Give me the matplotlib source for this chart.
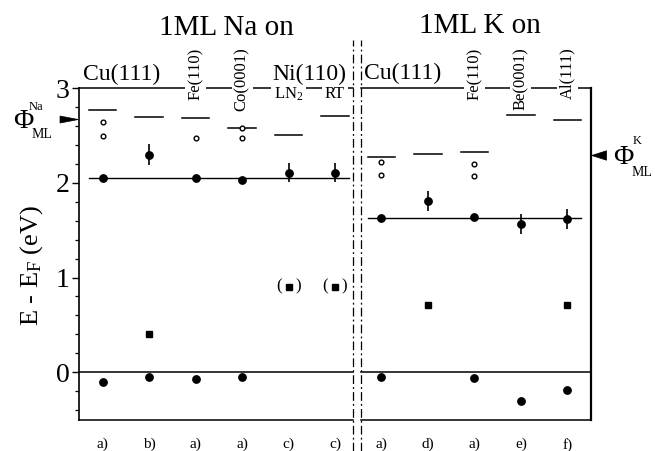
import matplotlib
matplotlib.use('Agg')
import matplotlib.pyplot as plt
from matplotlib.patches import Polygon
from matplotlib.transforms import blended_transform_factory
from matplotlib.ticker import FixedLocator, MultipleLocator

plt.rcParams['font.family'] = ['Liberation Serif', 'DejaVu Serif']
plt.rcParams['mathtext.fontset'] = 'custom'
plt.rcParams['mathtext.rm'] = 'Liberation Serif'
plt.rcParams['mathtext.it'] = 'Liberation Serif:italic'

# ---------------- data ----------------
cols = list(range(11))
cond_labels = ['a)', 'b)', 'a)', 'a)', 'c)', 'c)', 'a)', 'd)', 'a)', 'e)', 'f)']
# work function (horizontal dash per column)
work_fn = [2.77, 2.70, 2.69, 2.58, 2.51, 2.71, 2.27, 2.31, 2.33, 2.72, 2.66]
# open circles (image states)
open_x = [0, 0, 2, 3, 3, 6, 6, 8, 8]
open_y = [2.64, 2.50, 2.47, 2.58, 2.48, 2.22, 2.08, 2.20, 2.07]
# filled circles upper (quantum well state)
upper_y = [2.05, 2.30, 2.05, 2.03, 2.11, 2.11, 1.63, 1.81, 1.64, 1.57, 1.62]
upper_err = [0, 0.11, 0, 0, 0.10, 0.10, 0, 0.105, 0, 0.105, 0.105]
# filled squares
sq_x = [1, 7, 10]
sq_y = [0.40, 0.71, 0.71]
# parenthesised squares
psq_x = [4, 5]
psq_y = [0.905, 0.905]
# filled circles near E_F
low_x = [0, 1, 2, 3, 6, 8, 9, 10]
low_y = [-0.105, -0.055, -0.07, -0.05, -0.05, -0.065, -0.30, -0.19]
# reference levels
na_ref = 2.05
k_ref = 1.63
phi_na = 2.67
phi_k = 2.29
top_labels_rot = {2: 'Fe(110)', 3: 'Co(0001)', 8: 'Fe(110)', 9: 'Be(0001)', 10: 'Al(111)'}
temp_labels = {4: 'LN$_2$', 5: 'RT'}

W, H = 655, 451
fig = plt.figure(figsize=(W / 100, H / 100), dpi=100)
ax = fig.add_axes([79.3 / W, 1 - 419.5 / H, 511.4 / W, 331.2 / H])
ax.set_xlim(-0.5, 10.5)
ax.set_ylim(-0.5, 3.0)

def ftxt(x, y, s, **kw):
    fig.text(x / W, 1 - y / H, s, **kw)

k = 'black'
for s in ['top', 'bottom']:
    ax.spines[s].set_visible(False)
ax.spines['left'].set_linewidth(1.2)
ax.spines['right'].set_linewidth(1.6)

xl, xr = 5.38, 5.57
for yy in [3.0, 0.0, -0.5]:
    ax.plot([-0.5, xl], [yy, yy], color=k, lw=1.1, clip_on=False, zorder=1)
    ax.plot([xr, 10.5], [yy, yy], color=k, lw=1.1, clip_on=False, zorder=1)
for xx in [xl, xr]:
    ax.plot([xx, xx], [-0.83, 3.51], color=k, lw=0.9, ls=(0, (7, 2.5, 1.5, 2.5)),
            clip_on=False, zorder=1)

# reference lines
ax.plot([-0.3, 5.3], [na_ref, na_ref], color=k, lw=1.0)
ax.plot([5.7, 10.3], [k_ref, k_ref], color=k, lw=1.0)

# work function dashes
for c, w in zip(cols, work_fn):
    ax.plot([c - 0.3, c + 0.3], [w, w], color=k, lw=1.1)

ax.plot(open_x, open_y, 'o', mfc='white', mec=k, ms=3.4, mew=1.0, ls='none', zorder=4)
ax.errorbar(cols, upper_y, yerr=upper_err, fmt='o', color=k, ms=5.3, elinewidth=1.2,
            capsize=0, zorder=3)
ax.plot(sq_x, sq_y, 's', color=k, ms=4, ls='none')
ax.plot(psq_x, psq_y, 's', color=k, ms=4, ls='none')
for x, y in zip(psq_x, psq_y):
    ax.annotate('(', (x, y), xytext=(-7, 0), textcoords='offset points',
                ha='center', va='center', fontsize=12)
    ax.annotate(')', (x, y), xytext=(7, 0), textcoords='offset points',
                ha='center', va='center', fontsize=12)
ax.plot(low_x, low_y, 'o', color=k, ms=5.3, ls='none')

# ticks
ax.yaxis.set_major_locator(FixedLocator([0, 1, 2, 3]))
ax.yaxis.set_minor_locator(MultipleLocator(0.2))
ax.tick_params(axis='y', which='major', direction='out', length=5, width=1.0,
               labelsize=20, pad=2)
ax.tick_params(axis='y', which='minor', direction='out', length=3, width=0.9)
ax.set_xticks(cols, cond_labels)
ax.tick_params(axis='x', length=0, labelsize=11, pad=13)

# rotated substrate labels
for c, s in top_labels_rot.items():
    ax.text(c, 3.43, s, rotation=90, ha='center', va='top', fontsize=12,
            clip_on=False, zorder=5,
            bbox=dict(boxstyle='square,pad=0.15', fc='white', ec='none'))
for c, s in temp_labels.items():
    ax.text(c, 2.94, s, ha='center', va='center', fontsize=12, clip_on=False, zorder=5,
            bbox=dict(boxstyle='square,pad=0.15', fc='white', ec='none'))

# headers
ftxt(226, 35, '1ML Na on', ha='center', va='baseline', fontsize=21)
ftxt(480, 33, '1ML K on', ha='center', va='baseline', fontsize=21)
ftxt(83, 80, 'Cu(111)', ha='left', va='baseline', fontsize=17)
ftxt(346, 80, 'Ni(110)', ha='right', va='baseline', fontsize=17)
ftxt(364, 79, 'Cu(111)', ha='left', va='baseline', fontsize=17)

# y label
ftxt(32, 265, 'E - E$_{\\mathrm{F}}$ (eV)', rotation=90, ha='center', va='center',
     fontsize=19)

# Phi labels
ftxt(23, 122, '\u03A6', ha='center', va='center', fontsize=20)
ftxt(29, 107, 'Na', ha='left', va='center', fontsize=9)
ftxt(32, 135, 'ML', ha='left', va='center', fontsize=10)
ftxt(623, 157, '\u03A6', ha='center', va='center', fontsize=20)
ftxt(633, 141, 'K', ha='left', va='center', fontsize=9)
ftxt(632, 172, 'ML', ha='left', va='center', fontsize=10)

bt = blended_transform_factory(ax.transAxes, ax.transData)
ax.add_patch(Polygon([(-0.0377, phi_na + 0.037), (-0.0377, phi_na - 0.037),
                      (-0.002, phi_na)], closed=True, fc=k, ec=k, lw=0.5,
                     transform=bt, clip_on=False))
ax.add_patch(Polygon([(1.031, phi_k + 0.05), (1.031, phi_k - 0.05),
                      (1.002, phi_k)], closed=True, fc=k, ec=k, lw=0.5,
                     transform=bt, clip_on=False))

fig.savefig('out.png', dpi=100)
